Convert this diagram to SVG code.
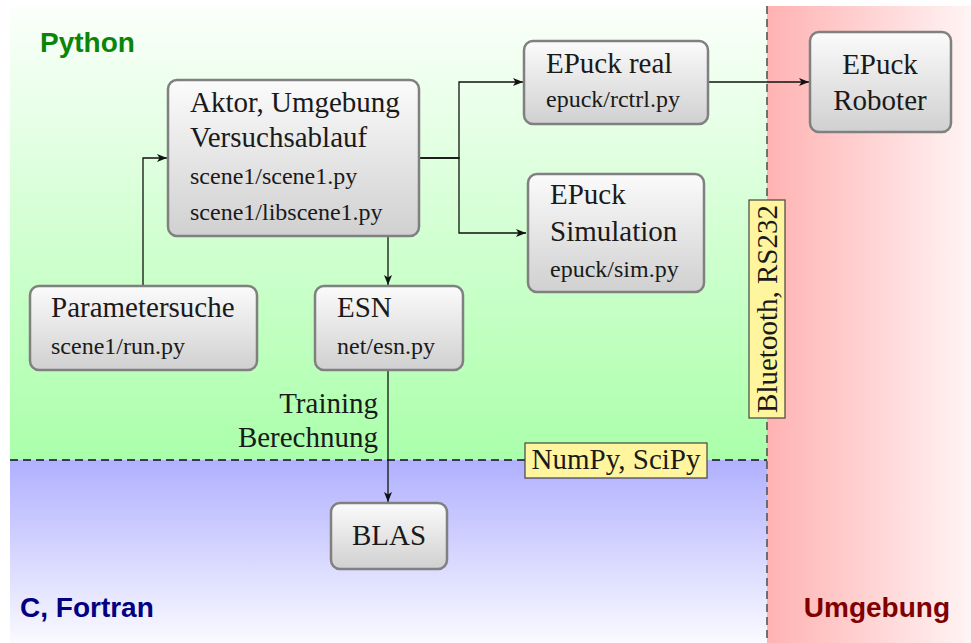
<svg xmlns="http://www.w3.org/2000/svg" width="971" height="643" viewBox="0 0 971 643">
  <defs>
    <linearGradient id="gPython" x1="0" y1="0" x2="0" y2="1">
      <stop offset="0" stop-color="#fbfffb"/>
      <stop offset="1" stop-color="#aaffaa"/>
    </linearGradient>
    <linearGradient id="gC" x1="0" y1="0" x2="0" y2="1">
      <stop offset="0" stop-color="#b0b0ff"/>
      <stop offset="1" stop-color="#fafaff"/>
    </linearGradient>
    <linearGradient id="gEnv" x1="0" y1="0" x2="1" y2="0">
      <stop offset="0" stop-color="#ffb2b2"/>
      <stop offset="1" stop-color="#fff4f4"/>
    </linearGradient>
    <linearGradient id="gNode" x1="0" y1="0" x2="0" y2="1">
      <stop offset="0" stop-color="#fbfbfb"/>
      <stop offset="1" stop-color="#d0d0d0"/>
    </linearGradient>
    <marker id="arr" viewBox="0 0 10 8" refX="10" refY="4" markerWidth="10" markerHeight="8" markerUnits="userSpaceOnUse" orient="auto">
      <path d="M0,0 L10,4 L0,8 L2.5,4 Z" fill="#111"/>
    </marker>
  </defs>
  <style>
    .node { fill: url(#gNode); stroke: #808080; stroke-width: 2.5; }
    .t { font-family: "Liberation Serif", "Times New Roman", serif; font-size: 29px; fill: #1a1a1a; }
    .s { font-family: "Liberation Serif", "Times New Roman", serif; font-size: 24px; fill: #1a1a1a; }
    .lbl { fill: #fff59e; stroke: #444; stroke-width: 1.2; }
    .zone { font-family: "Liberation Sans", Arial, sans-serif; font-size: 28px; font-weight: bold; }
    .edge { fill: none; stroke: #111; stroke-width: 1.3; }
  </style>

  <!-- Layers -->
  <g id="layers">
    <rect x="10" y="7" width="757" height="453" fill="url(#gPython)"/>
    <rect x="10" y="460" width="757" height="183" fill="url(#gC)"/>
    <rect x="767" y="6" width="204" height="637" fill="url(#gEnv)"/>
    <line x1="10" y1="460" x2="767" y2="460" stroke="#111" stroke-width="1.3" stroke-dasharray="8,5"/>
    <line x1="767" y1="6" x2="767" y2="643" stroke="#555" stroke-width="1.6" stroke-dasharray="8,5"/>
    <text class="zone" x="40" y="52" fill="#0a850a">Python</text>
    <text class="zone" x="20" y="617" fill="#000080">C, Fortran</text>
    <text class="zone" x="950" y="617" fill="#800000" text-anchor="end">Umgebung</text>
  </g>

  <!-- Connectors -->
  <g id="connectors">
    <path class="edge" d="M143,286 V158 H167" marker-end="url(#arr)"/>
    <path class="edge" d="M419,158 H459 V82 H523" marker-end="url(#arr)"/>
    <path class="edge" d="M419,158 H459 V233 H526" marker-end="url(#arr)"/>
    <path class="edge" d="M388,237 V285" marker-end="url(#arr)"/>
    <path class="edge" d="M388,371 V502" marker-end="url(#arr)"/>
    <path class="edge" d="M709,82 H809" marker-end="url(#arr)"/>
  </g>

  <!-- Nodes -->
  <g id="aktor">
    <rect class="node" x="168" y="80" width="251" height="156" rx="9"/>
    <text class="t" x="190" y="112">Aktor, Umgebung</text>
    <text class="t" x="190" y="147">Versuchsablauf</text>
    <text class="s" x="190" y="184">scene1/scene1.py</text>
    <text class="s" x="190" y="220">scene1/libscene1.py</text>
  </g>
  <g id="epuck-real">
    <rect class="node" x="524" y="41" width="184" height="83" rx="9"/>
    <text class="t" x="546" y="73">EPuck real</text>
    <text class="s" x="546" y="107">epuck/rctrl.py</text>
  </g>
  <g id="epuck-roboter">
    <rect class="node" x="810" y="32" width="141" height="100" rx="9"/>
    <text class="t" x="880" y="74" text-anchor="middle">EPuck</text>
    <text class="t" x="880" y="110" text-anchor="middle">Roboter</text>
  </g>
  <g id="epuck-sim">
    <rect class="node" x="528" y="174" width="176" height="118" rx="9"/>
    <text class="t" x="550" y="204">EPuck</text>
    <text class="t" x="550" y="241">Simulation</text>
    <text class="s" x="550" y="277">epuck/sim.py</text>
  </g>
  <g id="parametersuche">
    <rect class="node" x="30" y="286" width="227" height="84" rx="9"/>
    <text class="t" x="51" y="317">Parametersuche</text>
    <text class="s" x="51" y="354">scene1/run.py</text>
  </g>
  <g id="esn">
    <rect class="node" x="315" y="286" width="148" height="84" rx="9"/>
    <text class="t" x="337" y="317">ESN</text>
    <text class="s" x="337" y="354">net/esn.py</text>
  </g>
  <g id="blas">
    <rect class="node" x="331" y="503" width="116" height="66" rx="9"/>
    <text class="t" x="389" y="545" text-anchor="middle">BLAS</text>
  </g>

  <!-- Edge and boundary labels -->
  <g id="labels">
    <text class="t" x="378" y="413" text-anchor="end">Training</text>
    <text class="t" x="378" y="447" text-anchor="end">Berechnung</text>
    <rect class="lbl" x="525" y="443" width="182" height="35"/>
    <text class="t" x="616" y="469" text-anchor="middle">NumPy, SciPy</text>
    <rect class="lbl" x="749" y="200" width="36" height="218"/>
    <text class="t" transform="translate(777,309) rotate(-90)" text-anchor="middle">Bluetooth, RS232</text>
  </g>
</svg>
